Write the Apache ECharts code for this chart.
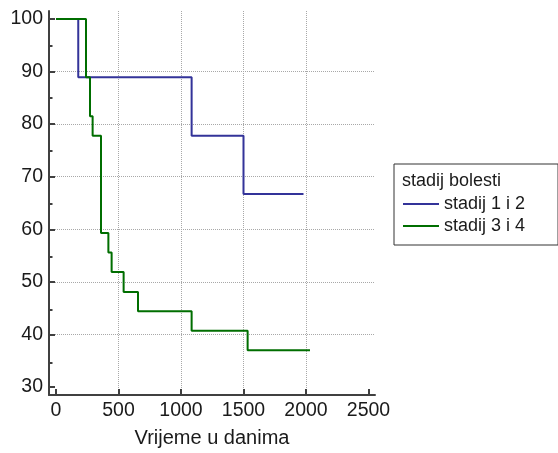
<!DOCTYPE html>
<html>
<head>
<meta charset="utf-8">
<script src="https://cdn.jsdelivr.net/npm/echarts@6/dist/echarts.min.js"></script>
<style>html,body{margin:0;padding:0;background:#fff;}#c{width:558px;height:453px;}</style>
</head>
<body>
<div id="c"></div>
<script>
// Data (Kaplan-Meier survival, %)
const seriesNames = ['stadij 1 i 2', 'stadij 3 i 4'];
const legendTitle = 'stadij bolesti';
const xAxisTitle = 'Vrijeme u danima';
const stage12Days = [0, 178, 1085, 1500, 1980];
const stage12Surv = [100, 88.9, 77.8, 66.7, 66.7];
const stage34Days = [0, 240, 272, 293, 360, 419, 445, 541, 656, 1085, 1533, 2032];
const stage34Surv = [100, 88.9, 81.5, 77.8, 59.3, 55.6, 51.9, 48.1, 44.4, 40.7, 37.0, 37.0];
const xTicks = [0, 500, 1000, 1500, 2000, 2500];
const yTicks = [30, 40, 50, 60, 70, 80, 90, 100];
const yMinorTicks = [35, 45, 55, 65, 75, 85, 95];

const FONT = 'Liberation Sans, Arial, sans-serif';
const AXC = '#404040';
const TXT = '#1a1a1a';
const pairs = (xs, ys) => xs.map((x, i) => [x, ys[i]]);

const gridPos = { left: 49, top: 11, right: 183, bottom: 56 };
const xMin = -56, xMax = 2552, yMin = 28.5, yMax = 101.5;
const plain = v => String(v);
const g = () => Object.assign({ containLabel: false }, gridPos);
const tickStyle = { color: AXC, width: 2 };
const gridLine = { color: '#a8a8a8', type: [1, 1], width: 1 };

const chart = echarts.init(document.getElementById('c'), null, { renderer: 'canvas' });
chart.setOption({
  animation: false,
  backgroundColor: '#ffffff',
  title: {
    text: legendTitle, left: 402, top: 172, padding: 0,
    textStyle: { fontFamily: FONT, fontSize: 18, fontWeight: 'normal', color: TXT }
  },
  legend: {
    orient: 'vertical', left: 394, top: 164,
    padding: [31, 33, 10, 9],
    borderColor: '#333', borderWidth: 1,
    icon: 'rect',
    itemWidth: 36, itemHeight: 2, itemGap: 4,
    textStyle: { fontFamily: FONT, fontSize: 18, color: TXT },
    data: seriesNames
  },
  grid: [g(), g()],
  xAxis: [
    {
      type: 'value', gridIndex: 0, min: xMin, max: xMax,
      name: xAxisTitle, nameLocation: 'middle', nameGap: 33,
      nameTextStyle: { fontFamily: FONT, fontSize: 20, color: TXT },
      axisLine: { show: true, onZero: false, lineStyle: { color: AXC, width: 2 } },
      axisTick: { show: true, inside: true, length: 6, lineStyle: tickStyle, customValues: xTicks },
      axisLabel: { fontFamily: FONT, fontSize: 19.5, color: TXT, margin: 6, customValues: xTicks, formatter: plain },
      splitLine: { show: true, showMinLine: false, showMaxLine: false, lineStyle: gridLine }
    },
    {
      type: 'value', gridIndex: 1, min: xMin, max: xMax, show: false
    }
  ],
  yAxis: [
    {
      type: 'value', gridIndex: 0, min: yMin, max: yMax,
      axisLine: { show: true, onZero: false, lineStyle: { color: AXC, width: 2 } },
      axisTick: { show: true, inside: true, length: 6, lineStyle: tickStyle, customValues: yTicks },
      axisLabel: { fontFamily: FONT, fontSize: 19.5, color: TXT, margin: 6, customValues: yTicks, formatter: plain },
      splitLine: { show: true, showMinLine: false, showMaxLine: false, lineStyle: gridLine }
    },
    {
      // minor ticks
      type: 'value', gridIndex: 1, min: yMin, max: yMax,
      axisLine: { show: false, onZero: false },
      axisTick: { show: true, inside: true, length: 3.5, lineStyle: tickStyle, customValues: yMinorTicks },
      axisLabel: { show: false }, splitLine: { show: false }
    }
  ],
  series: [
    {
      name: seriesNames[0], type: 'line', step: 'end', symbol: 'none',
      xAxisIndex: 0, yAxisIndex: 0,
      lineStyle: { color: '#333399', width: 2 }, itemStyle: { color: '#333399' },
      data: pairs(stage12Days, stage12Surv)
    },
    {
      name: seriesNames[1], type: 'line', step: 'end', symbol: 'none',
      xAxisIndex: 0, yAxisIndex: 0,
      lineStyle: { color: '#006e00', width: 2 }, itemStyle: { color: '#006e00' },
      data: pairs(stage34Days, stage34Surv)
    }
  ]
});
</script>
</body>
</html>
